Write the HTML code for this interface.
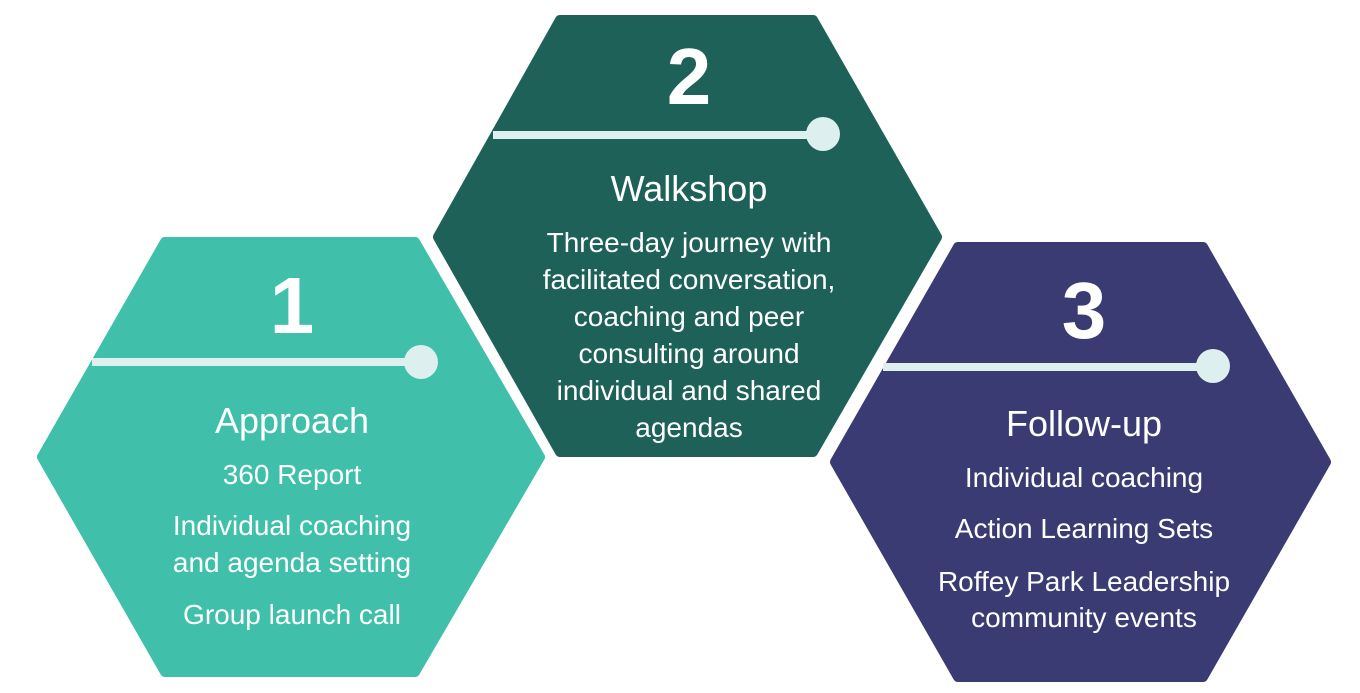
<!DOCTYPE html>
<html><head><style>
html,body{margin:0;padding:0;background:#fff;}
svg{display:block;}
text{font-family:"Liberation Sans",sans-serif;fill:#fff;text-anchor:middle;}
.n{font-size:80px;font-weight:bold;}
.t{font-size:36px;}
.b{font-size:28px;}
</style></head><body>
<svg width="1360" height="693" viewBox="0 0 1360 693" xmlns="http://www.w3.org/2000/svg">
<g stroke-linejoin="round" stroke-width="10">
<polygon points="165,242 415,242 540,457 415,672 165,672 42,457" fill="#40BFAB" stroke="#40BFAB"/>
<polygon points="560,20 813,20 937,237 813,452 560,452 438,237" fill="#1D6159" stroke="#1D6159"/>
<polygon points="958,247 1203,247 1326,462 1203,677 958,677 835,462" fill="#3B3B73" stroke="#3B3B73"/>
</g>
<g fill="#DDEFEE">
<rect x="92" y="358" width="330" height="8"/><circle cx="421" cy="362" r="17"/>
<rect x="493" y="131" width="330" height="8"/><circle cx="823" cy="134" r="17"/>
<rect x="883" y="363" width="330" height="8"/><circle cx="1213" cy="366" r="17"/>
</g>
<text class="n" x="292" y="333">1</text>
<text class="t" x="292" y="433">Approach</text>
<text class="b" x="292" y="484">360 Report</text>
<text class="b" x="292" y="535">Individual coaching</text>
<text class="b" x="292" y="572">and agenda setting</text>
<text class="b" x="292" y="624">Group launch call</text>
<text class="n" x="689" y="104">2</text>
<text class="t" x="689" y="201">Walkshop</text>
<text class="b" x="689" y="252">Three-day journey with</text>
<text class="b" x="689" y="289">facilitated conversation,</text>
<text class="b" x="689" y="326">coaching and peer</text>
<text class="b" x="689" y="363">consulting around</text>
<text class="b" x="689" y="400">individual and shared</text>
<text class="b" x="689" y="437">agendas</text>
<text class="n" x="1084" y="338">3</text>
<text class="t" x="1084" y="436">Follow-up</text>
<text class="b" x="1084" y="487">Individual coaching</text>
<text class="b" x="1084" y="538">Action Learning Sets</text>
<text class="b" x="1084" y="591">Roffey Park Leadership</text>
<text class="b" x="1084" y="627">community events</text>
</svg>
</body></html>
